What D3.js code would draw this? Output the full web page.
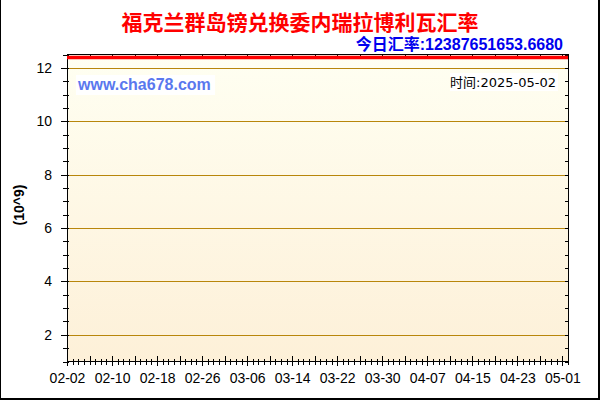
<!DOCTYPE html>
<html><head><meta charset="utf-8">
<script src="https://cdn.jsdelivr.net/npm/d3@7"></script>
<style>body{margin:0;background:#fff}svg{display:block}</style>
</head><body>
<svg id="c" width="600" height="400"></svg>
<script>
const title = "福克兰群岛镑兑换委内瑞拉博利瓦汇率";
const todayRate = "今日汇率:12387651653.6680";
const siteText = "www.cha678.com";
const timeText = "时间:2025-05-02";
const yLabel = "(10^9)";
const dates = ["2025-02-02","2025-02-10","2025-02-18","2025-02-26","2025-03-06","2025-03-14","2025-03-22","2025-03-30","2025-04-07","2025-04-15","2025-04-23","2025-05-01","2025-05-02"];
const values = [12.3877,12.3877,12.3877,12.3877,12.3877,12.3877,12.3877,12.3877,12.3877,12.3877,12.3877,12.3877,12.3877];
const xTickLabels = ["02-02","02-10","02-18","02-26","03-06","03-14","03-22","03-30","04-07","04-15","04-23","05-01"];
const yTicks = [2,4,6,8,10,12];
const yDomain = [1, 12.5];

const parse = d3.timeParse("%Y-%m-%d");
const svg = d3.select("#c");
const L = 67, R = 568, T = 54.5, B = 361.5;
const x = d3.scaleTime().domain([parse("2025-02-02"), parse("2025-05-02")]).range([L, R]);
const y = d3.scaleLinear().domain(yDomain).range([B, T]);
const font = "'Liberation Sans', Arial, 'Noto Sans CJK SC', sans-serif";

// border
svg.append("line").attr("x1",0.5).attr("x2",0.5).attr("y1",0).attr("y2",400).attr("stroke","#000");
svg.append("rect").attr("x",598).attr("y",0).attr("width",2).attr("height",400).attr("fill","#000");
svg.append("rect").attr("x",0).attr("y",398).attr("width",600).attr("height",2).attr("fill","#000");

// gradient background
const defs = svg.append("defs");
const g = defs.append("linearGradient").attr("id","bg").attr("x1",0).attr("x2",0).attr("y1",0).attr("y2",1);
g.append("stop").attr("offset","0%").attr("stop-color","#fffff2");
g.append("stop").attr("offset","100%").attr("stop-color","#fdf0d8");
svg.append("rect").attr("x",L).attr("y",T).attr("width",R-L).attr("height",B-T).attr("fill","url(#bg)");

// gridlines
svg.append("g").selectAll("line").data(yTicks).join("line")
  .attr("x1",L).attr("x2",R).attr("y1",d=>Math.round(y(d))+0.5).attr("y2",d=>Math.round(y(d))+0.5)
  .attr("stroke","#b8860b").attr("stroke-width",1);

// texts inside plot
const siteG = svg.append("g");
siteG.append("rect").attr("x",76).attr("y",75).attr("width",139).attr("height",20).attr("fill","#fff");
siteG.append("text").attr("x",78).attr("y",90).attr("font-family",font).attr("font-weight","bold")
  .attr("font-size",16).attr("fill","#5a78ee").text(siteText);
const tG = svg.append("g");
tG.append("rect").attr("x",450).attr("y",73).attr("width",108).attr("height",18).attr("fill","#fff");
tG.append("text").attr("x",556).attr("y",87).attr("text-anchor","end").attr("font-family","'DejaVu Sans','Noto Sans CJK SC',sans-serif")
  .attr("font-size",13).attr("fill","#000").text(timeText);

// axes
const yMinor = d3.range(1, 12.51, 0.5);
const ax = svg.append("g").attr("shape-rendering","crispEdges");
// left minor
ax.append("g").attr("transform",`translate(${L},0)`)
  .call(d3.axisLeft(y).tickValues(yMinor).tickSize(4).tickFormat(""))
  .call(s=>s.select(".domain").remove());
ax.append("g").attr("transform",`translate(${L},0)`)
  .call(d3.axisRight(y).tickValues(yMinor).tickSize(2).tickFormat(""))
  .call(s=>s.select(".domain").remove());
// left major with labels
const yAx = ax.append("g").attr("transform",`translate(${L},0)`)
  .call(d3.axisLeft(y).tickValues(yTicks).tickSize(6).tickPadding(9).tickFormat(d3.format("d")));
yAx.select(".domain").remove();
yAx.selectAll("text").attr("font-family",font).attr("font-size",14).attr("fill","#000");
// right
ax.append("g").attr("transform",`translate(${R},0)`)
  .call(d3.axisLeft(y).tickValues(yMinor).tickSize(3).tickFormat(""))
  .call(s=>s.select(".domain").remove());

// bottom
const days = d3.timeDay.range(parse("2025-02-02"), d3.timeDay.offset(parse("2025-05-02"),1));
const major4 = days.filter((d,i)=>i%4===0);
const labelDates = days.filter((d,i)=>i%8===0).slice(0, xTickLabels.length);
ax.append("g").attr("transform",`translate(0,${B})`)
  .call(d3.axisBottom(x).tickValues(days).tickSize(3).tickFormat(""))
  .call(s=>s.select(".domain").remove());
ax.append("g").attr("transform",`translate(0,${B})`)
  .call(d3.axisTop(x).tickValues(days).tickSize(3).tickFormat(""))
  .call(s=>s.select(".domain").remove());
ax.append("g").attr("transform",`translate(0,${B})`)
  .call(d3.axisTop(x).tickValues(major4).tickSize(6).tickFormat(""))
  .call(s=>s.select(".domain").remove());
const xAx = ax.append("g").attr("transform",`translate(0,${B})`)
  .call(d3.axisBottom(x).tickValues(labelDates).tickSize(4).tickPadding(8).tickFormat((d,i)=>xTickLabels[i]));
xAx.select(".domain").remove();
xAx.selectAll("text").attr("font-family",font).attr("font-size",14).attr("fill","#000");
// top
ax.append("g").attr("transform",`translate(0,${T})`)
  .call(d3.axisBottom(x).tickValues(major4).tickSize(4).tickFormat(""))
  .call(s=>s.select(".domain").remove());

// frame
svg.append("rect").attr("x",L).attr("y",T).attr("width",R-L).attr("height",B-T)
  .attr("fill","none").attr("stroke","#000").attr("shape-rendering","crispEdges");

// data line
const line = d3.line().x((d,i)=>x(parse(dates[i]))).y(d=>y(d));
svg.append("path").datum(values).attr("d",line).attr("fill","none").attr("stroke","#ff0000").attr("stroke-width",3.5);

// titles
svg.append("text").attr("x",300).attr("y",30).attr("text-anchor","middle")
  .attr("font-family","'Noto Sans CJK SC',sans-serif").attr("font-weight","bold").attr("font-size",21)
  .attr("fill","#ff0000").text(title);
svg.append("text").attr("x",563).attr("y",50).attr("text-anchor","end")
  .attr("font-family",font).attr("font-weight","bold").attr("font-size",16)
  .attr("fill","#0000ee").text(todayRate);
svg.append("text").attr("transform","translate(24,205) rotate(-90)").attr("text-anchor","middle")
  .attr("font-family",font).attr("font-weight","bold").attr("font-size",14)
  .attr("fill","#000").text(yLabel);
</script>
</body></html>
